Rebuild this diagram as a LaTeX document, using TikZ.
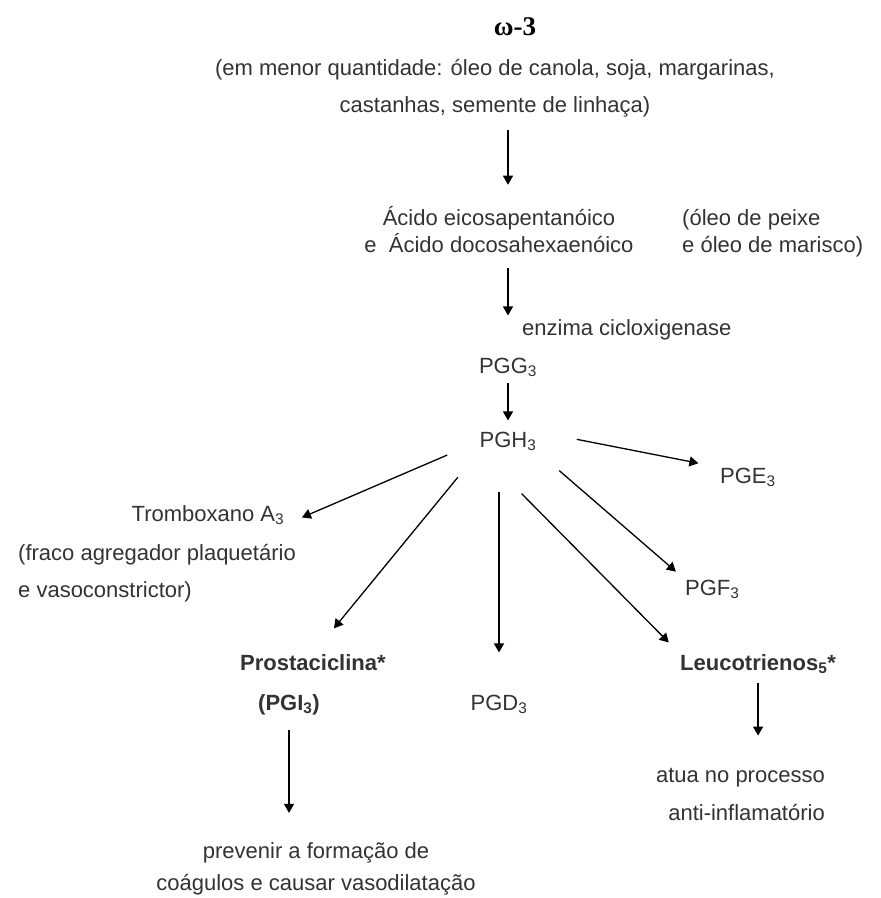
\documentclass[tikz,border=0pt]{standalone}
\usepackage{fontspec}
\setmainfont{Liberation Sans}
\newfontfamily\omegafont{Liberation Serif}
\usetikzlibrary{arrows.meta}

\begin{document}
\begin{tikzpicture}[
    x=1pt, y=-1pt,
    txt/.style={anchor=base, inner sep=0pt, text=black!80, font=\fontsize{22}{37}\selectfont},
    tight/.style={font=\fontsize{22}{27}\selectfont},
    bold/.style={font=\fontsize{22}{40}\selectfont\bfseries},
    arr/.style={-{Triangle[length=9pt,width=10pt]}, line width=1.3pt}
]
\path[use as bounding box, fill=white] (0,0) rectangle (881,898);

\node[txt, text=black, font=\fontsize{27}{30}\selectfont\omegafont\bfseries] (omega) at (515,35) {ω-3};
\node[txt, align=center] (fonte) at (495,112) {(em menor quantidade: óleo de canola, soja, margarinas,\\castanhas, semente de linhaça)};
\node[txt, tight, align=center] (acido) at (499,252) {Ácido eicosapentanóico\\e~ Ácido docosahexaenóico};
\node[txt, tight, align=left, anchor=base west] (peixe) at (682,252) {(óleo de peixe\\e óleo de marisco)};
\node[txt, anchor=base west] (enzima) at (522,335) {enzima cicloxigenase};
\node[txt] (pgg) at (508,373) {PGG\textsubscript{3}};
\node[txt] (pgh) at (508,447) {PGH\textsubscript{3}};
\node[txt, anchor=base west] (pge) at (720,483) {PGE\textsubscript{3}};
\node[txt, anchor=base west] (pgf) at (685,595) {PGF\textsubscript{3}};
\node[txt] (trom) at (208,521) {Tromboxano A\textsubscript{3}};
\node[txt, align=left, anchor=base west] (tromtxt) at (18,597) {(fraco agregador plaquetário\\e vasoconstrictor)};
\node[txt, bold, anchor=base west] (prosta) at (240,670) {Prostaciclina*};
\node[txt, bold, anchor=base west] (pgi) at (258,710) {(PGI\textsubscript{3})};
\node[txt] (pgd) at (499,710) {PGD\textsubscript{3}};
\node[txt, bold, anchor=base west] (leuco) at (680,670) {Leucotrienos\textsubscript{5}*};
\node[txt, align=center, font=\fontsize{22}{32}\selectfont] (prev) at (316,890) {prevenir a formação de\\coágulos e causar vasodilatação};
\node[txt, align=right, anchor=base east, font=\fontsize{22}{38}\selectfont] (atua) at (825,820) {atua no processo\\anti-inflamatório};

\draw[arr, shorten <=13pt, shorten >=21pt] (fonte.south -| pgg) -- (acido.north -| pgg);
\draw[arr, shorten <=16pt, shorten >=42pt] (acido.south -| pgg) -- (pgg.north);
\draw[arr, shorten <=6pt, shorten >=11pt] (pgg) -- (pgh);
\draw[arr, shorten <=35pt, shorten >=19pt] (pgh.west) -- (trom.south east);
\draw[arr, shorten <=34pt, shorten >=33pt] (pgh.south west) -- (prosta.north);
\draw[arr, shorten <=41pt, shorten >=42pt] (pgh.south -| pgd) -- (pgd.north);
\draw[arr, shorten <=60pt, shorten >=16pt] (pgh.south west) -- (leuco.north west);
\draw[arr, shorten <=30pt, shorten >=12pt] (pgh.south east) -- (pgf.north west);
\draw[arr, shorten <=41pt, shorten >=22pt] (pgh.north east) -- (pge.north west);
\draw[arr, shorten <=15pt, shorten >=29pt] (pgi.south) -- (pgi.south |- prev.north);
\draw[arr, shorten <=9pt, shorten >=32pt] (leuco.south) -- (leuco.south |- atua.north);
\end{tikzpicture}
\end{document}
